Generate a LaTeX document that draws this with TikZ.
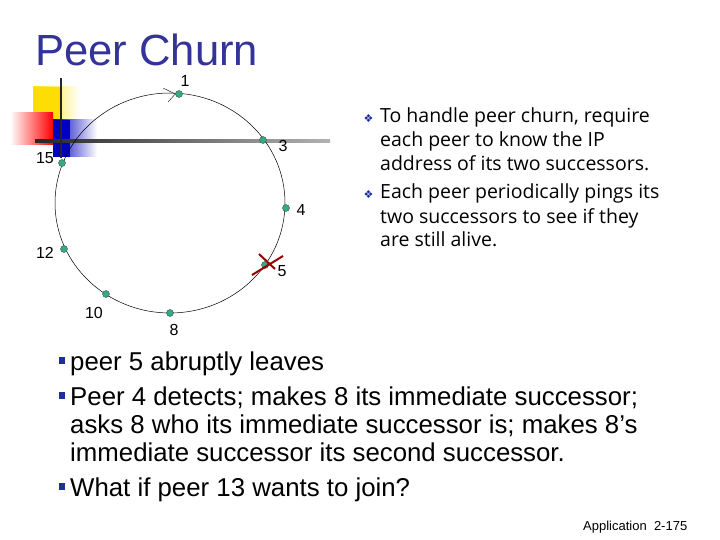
\documentclass[tikz,border=0pt]{standalone}
\usepackage{fontspec}
\setmainfont{Liberation Sans}
\newfontfamily\rtfont{Open Sans}
\newfontfamily\djv{DejaVu Sans}
\usetikzlibrary{shadings}
\definecolor{ttl}{HTML}{333399}
\definecolor{nodeg}{HTML}{33AA88}
\definecolor{bul}{HTML}{1F2F9A}
\begin{document}
\begin{tikzpicture}[x=1pt,y=-1pt,
  peer/.style={circle,fill=nodeg,draw=black!70,line width=0.4pt,inner sep=0pt,minimum size=7pt},
  lbl/.style={font=\fontsize{16}{18}\selectfont,inner sep=1pt},
  bl/.style={anchor=base west,font=\fontsize{25.8}{28}\selectfont,inner sep=0pt},
  rt/.style={anchor=base west,font=\rtfont\fontsize{19.5}{22}\selectfont,inner sep=0pt}]
\useasboundingbox (0,0) rectangle (720,540);
\fill[white] (0,0) rectangle (720,540);
% decoration
\shade[left color=yellow!80!orange,right color=white] (33,87) rectangle (80,123);
\fill[yellow!80!orange] (33,87) rectangle (60,123);
\shade[left color=white,right color=red] (10,113) rectangle (53,145);
\shade[left color=blue!75!black,right color=white] (53,120) rectangle (97,157);
\fill[blue!75!black] (53,120) rectangle (70,157);
\shade[left color=black!85,right color=black!30] (35,139.5) rectangle (330,142.5);
\draw[line width=2pt,black!85] (61,78) -- (61,158);
\node[anchor=base west,text=ttl,font=\fontsize{43.6}{46}\selectfont,inner sep=0pt] (title) at (35,66) {Peer Churn};
% ring
\draw[line width=0.5pt] (170,203) ellipse (115 and 110);
\node[peer] (p1) at (179,94) {};
\node[peer] (p3) at (263,140) {};
\node[peer] (p15) at (62,163) {};
\node[peer] (p4) at (286,208) {};
\node[peer] (p12) at (64,249) {};
\node[peer] (p5) at (265,265) {};
\node[peer] (p10) at (106,294) {};
\node[peer] (p8) at (170,313) {};
\coordinate (a1) at (163,88); \coordinate (a2) at (168,102);
\draw (a1) -- (p1.west); \draw (a2) -- (p1.west);
\node[lbl] at (185,81) {1};
\node[lbl] at (283,146) {3};
\node[lbl] at (45,158) {15};
\node[lbl] at (301,210) {4};
\node[lbl] at (45,253) {12};
\node[lbl] at (282,271) {5};
\node[lbl] at (94,313) {10};
\node[lbl] at (174,330) {8};
\coordinate (x1) at (252,275); \coordinate (x2) at (283,256);
\coordinate (x3) at (259,254); \coordinate (x4) at (275,269);
\draw[line width=2pt,red!60!black] (x1) -- (x2);
\draw[line width=2pt,red!60!black] (x3) -- (x4);
% right text
\node[anchor=base west,text=bul,font=\djv\fontsize{11}{12}\selectfont] (d1) at (360,123) {❖};
\node[anchor=base west,text=bul,font=\djv\fontsize{11}{12}\selectfont] (d2) at (360,199) {❖};
\node[rt] (r1) at (380,123) {To handle peer churn, require};
\node[rt] (r2) at (380,147) {each peer to know the IP};
\node[rt] (r3) at (380,171) {address of its two successors.};
\node[rt] (r4) at (380,199) { Each peer periodically pings its};
\node[rt] (r5) at (380,223) {two successors to see if they};
\node[rt] (r6) at (380,247) {are still alive.};
% bottom bullets
\fill[bul] (59,357) rectangle (65,364);
\fill[bul] (59,392) rectangle (65,399);
\fill[bul] (59,483) rectangle (65,490);
\node[bl] (b1) at (70,370) {peer 5 abruptly leaves};
\node[bl] (b2) at (70,405) {Peer 4 detects; makes 8 its immediate successor;};
\node[bl] (b3) at (70,433) {asks 8 who its immediate successor is; makes 8’s};
\node[bl] (b4) at (70,461) {immediate successor its second successor.};
\node[bl] (b5) at (70,496) {What if peer 13 wants to join?};
\node[anchor=base west,font=\fontsize{13}{14}\selectfont,inner sep=0pt] (ft) at (583,530) {Application\ \ 2-175};
\end{tikzpicture}
\end{document}
